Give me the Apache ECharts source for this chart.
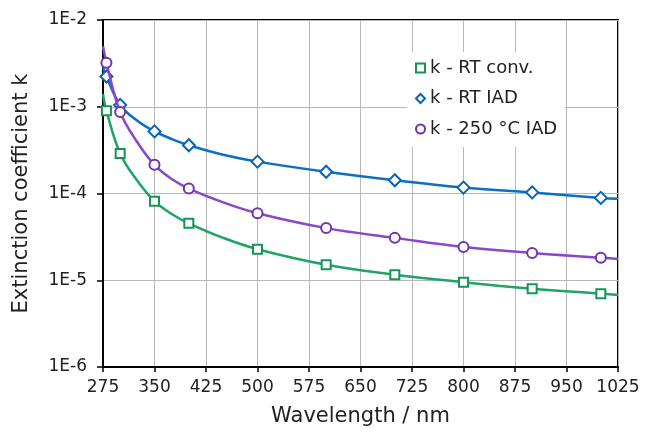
<!DOCTYPE html>
<html><head><meta charset="utf-8">
<script src="https://cdn.jsdelivr.net/npm/echarts@6/dist/echarts.min.js"></script>
<style>html,body{margin:0;padding:0;background:#fff}#c{width:649px;height:432px}</style>
</head><body><div id="c"></div>
<script>
// Wavelength (nm) sample points; markers shown where markerFlags = 1
const wavelengths = [275, 280, 300, 325, 350, 375, 400, 450, 500, 600, 700, 800, 900, 1000, 1025];
const markerFlags = [0, 1, 1, 0, 1, 0, 1, 0, 1, 1, 1, 1, 1, 1, 0];
const kRTconv = [1.40e-3, 9.0e-4, 2.9e-4, 1.40e-4, 8.15e-5, 5.8e-5, 4.53e-5, 3.08e-5, 2.28e-5, 1.51e-5, 1.16e-5, 9.5e-6, 8.0e-6, 7.0e-6, 6.75e-6];
const kRTIAD  = [2.85e-3, 2.23e-3, 1.05e-3, 6.9e-4, 5.2e-4, 4.25e-4, 3.6e-4, 2.8e-4, 2.33e-4, 1.78e-4, 1.42e-4, 1.17e-4, 1.03e-4, 8.9e-5, 8.7e-5];
const k250IAD = [4.97e-3, 3.22e-3, 8.7e-4, 3.9e-4, 2.14e-4, 1.47e-4, 1.14e-4, 7.9e-5, 5.92e-5, 3.99e-5, 3.08e-5, 2.42e-5, 2.06e-5, 1.82e-5, 1.76e-5];
const xTickValues = [275, 350, 425, 500, 575, 650, 725, 800, 875, 950, 1025];
const seriesNames = ['k - RT conv.', 'k - RT IAD', 'k - 250 °C IAD'];

const FONT = 'DejaVu Sans';
function makeData(vals, sym) {
  return wavelengths.map((w, i) => ({ value: [w, vals[i]], symbol: markerFlags[i] ? sym : 'none' }));
}
function makeSeries(name, vals, sym, size, lineColor, markColor, z) {
  return {
    name: name, type: 'line', smooth: 0.4, z: z,
    data: makeData(vals, sym),
    showAllSymbol: true, symbol: sym, symbolSize: size,
    lineStyle: { color: lineColor, width: 2.5 },
    itemStyle: { color: '#fff', borderColor: markColor, borderWidth: 2 },
    emphasis: { disabled: true }
  };
}
const chart = echarts.init(document.getElementById('c'), null, { renderer: 'canvas' });
chart.setOption({
  animation: false,
  grid: { left: 103, right: 31, top: 20, bottom: 61, show: true, borderColor: '#000', borderWidth: 2, backgroundColor: 'transparent' },
  legend: {
    orient: 'vertical', left: 407, top: 52,
    padding: [6, 8, 8, 8],
    backgroundColor: '#fff',
    itemWidth: 9, itemHeight: 9, itemGap: 10.5,
    textStyle: { fontFamily: FONT, fontSize: 18, color: '#222', lineHeight: 20 },
    data: [
      { name: seriesNames[0], icon: 'rect' },
      { name: seriesNames[1], icon: 'diamond' },
      { name: seriesNames[2], icon: 'circle' }
    ],
    selectedMode: false
  },
  xAxis: {
    type: 'value', min: 275, max: 1025,
    name: 'Wavelength / nm', nameLocation: 'middle', nameGap: 39,
    nameTextStyle: { fontFamily: FONT, fontSize: 21, color: '#222' },
    axisLine: { lineStyle: { color: '#000', width: 2 } },
    axisTick: { show: true, length: 5, inside: false, customValues: xTickValues, lineStyle: { color: '#000', width: 1.5 } },
    axisLabel: { customValues: xTickValues, margin: 12, fontFamily: FONT, fontSize: 17, color: '#222',
      formatter: v => String(v) },
    splitLine: { show: true, lineStyle: { color: '#b8b8b8', width: 1 } }
  },
  yAxis: {
    type: 'log', logBase: 10, min: 1e-6, max: 1e-2,
    name: 'Extinction coefficient k', nameLocation: 'middle', nameGap: 71,
    nameTextStyle: { fontFamily: FONT, fontSize: 21, color: '#222' },
    axisLine: { lineStyle: { color: '#000', width: 2 } },
    axisTick: { show: true, length: 6, lineStyle: { color: '#000', width: 1.5 } },
    axisLabel: { margin: 16, fontFamily: FONT, fontSize: 17, color: '#222',
      formatter: v => '1E' + Math.round(Math.log10(v)) },
    splitLine: { show: true, lineStyle: { color: '#b8b8b8', width: 1 } },
    minorTick: { show: false }
  },
  series: [
    makeSeries(seriesNames[0], kRTconv, 'rect', 9, '#1fa463', '#16945a', 3),
    makeSeries(seriesNames[1], kRTIAD, 'diamond', 12, '#0b6fc2', '#0a64b4', 4),
    makeSeries(seriesNames[2], k250IAD, 'circle', 10, '#8c46cc', '#7235a8', 5)
  ]
});
</script>
</body></html>
